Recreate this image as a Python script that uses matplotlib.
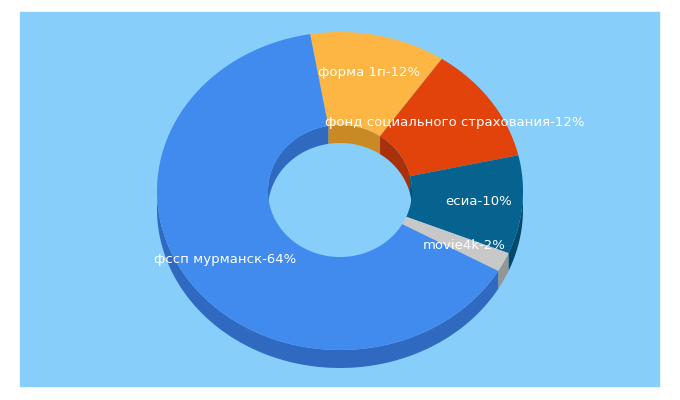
import numpy as np
import matplotlib
matplotlib.use("Agg")
import matplotlib.pyplot as plt
from matplotlib.patches import Polygon, Rectangle

labels = ["форма 1п", "фонд социального страхования", "есиа", "movie4k", "фссп мурманск"]
values = [12, 12, 10, 2, 64]
colors = ["#FDB544", "#E2430A", "#06638F", "#C8C8C8", "#418BEF"]
sides = ["#C98A25", "#A8300A", "#04486A", "#959595", "#2F6AC0"]

cx, cy, rx, ry, irx, iry, depth = 340, 191, 183, 159, 72, 66, 18
start = 99.4

fig = plt.figure(figsize=(6.8, 4), dpi=100)
ax = fig.add_axes([0, 0, 1, 1])
ax.set_xlim(0, 680); ax.set_ylim(400, 0); ax.axis("off")
ax.add_patch(Rectangle((20, 12), 639, 374, color="#87CEFA", zorder=0))

def pt(a, rxx, ryy, dz=0):
    t = np.radians(a)
    return np.column_stack([cx + rxx*np.cos(t), cy - ryy*np.sin(t) + dz])

angles = []
a = start
for v in values:
    a2 = a - v*3.6
    angles.append((a, a2)); a = a2

# inner back walls (visible through hole)
for (a1, a2), sc in zip(angles, sides):
    lo, hi = max(min(a1, a2), 0), min(max(a1, a2), 180)
    for off in (0, 360, -360):
        l, h = max(min(a1, a2)+off, 0), min(max(a1, a2)+off, 180)
        if h > l:
            th = np.linspace(l, h, 60)
            poly = np.vstack([pt(th, irx, iry), pt(th[::-1], irx, iry, depth)])
            ax.add_patch(Polygon(poly, color=sc, zorder=1, lw=0))
# outer front walls
for (a1, a2), sc in zip(angles, sides):
    for off in (0, 360, -360):
        l, h = max(min(a1, a2)+off, 180), min(max(a1, a2)+off, 360)
        if h > l:
            th = np.linspace(l, h, 120)
            poly = np.vstack([pt(th, rx, ry), pt(th[::-1], rx, ry, depth)])
            ax.add_patch(Polygon(poly, color=sc, zorder=2, lw=0))
# top faces
for (a1, a2), c in zip(angles, colors):
    th = np.linspace(a1, a2, 150)
    poly = np.vstack([pt(th, rx, ry), pt(th[::-1], irx, iry)])
    ax.add_patch(Polygon(poly, color=c, zorder=3, lw=0))
# labels
for (a1, a2), lab, v in zip(angles, labels, values):
    m = (a1 + a2) / 2
    p = pt(np.array([m]), rx*0.76, ry*0.76)[0]
    ax.text(p[0], p[1], f"{lab}-{v}%", color="white", fontsize=9.5,
            ha="center", va="center", zorder=5)

fig.savefig("out.png", dpi=100)
